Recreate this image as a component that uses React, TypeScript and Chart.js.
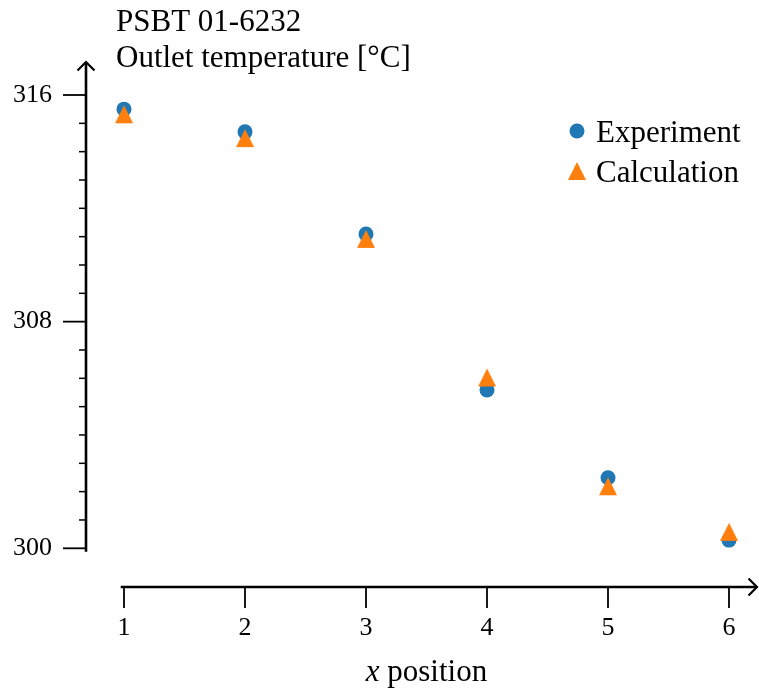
import React, { useEffect, useRef } from 'react';
import { Chart, registerables } from 'chart.js';

Chart.register(...registerables);

// ---- data ----
const X_POSITIONS = [1, 2, 3, 4, 5, 6];
const EXPERIMENT = [315.5, 314.7, 311.09, 305.59, 302.49, 300.29];
const CALCULATION = [315.32, 314.48, 310.92, 306.03, 302.19, 300.58];
const X_TICKS = [1, 2, 3, 4, 5, 6];
const Y_MAJOR_TICKS = [300, 308, 316];
const Y_MINOR_STEP = 1;
const SERIES_NAMES = ['Experiment', 'Calculation'];
const TITLE_LINES = ['PSBT 01-6232', 'Outlet temperature [°C]'];
const X_LABEL_VAR = 'x';
const X_LABEL_TEXT = ' position';

const COLORS = ['#1f77b4', '#ff7f0e'];
const FONT = '"Liberation Serif", "Times New Roman", serif';

function makeTriangle(color: string, size: number): HTMLCanvasElement {
  const c = document.createElement('canvas');
  const s = size + 2;
  c.width = s;
  c.height = s;
  const ctx = c.getContext('2d')!;
  ctx.fillStyle = color;
  ctx.beginPath();
  ctx.moveTo(s / 2, 1);
  ctx.lineTo(s - 1, s - 1);
  ctx.lineTo(1, s - 1);
  ctx.closePath();
  ctx.fill();
  return c;
}

function zeroPad(s: any) {
  s.paddingLeft = 0;
  s.paddingRight = 0;
  s.paddingTop = 0;
  s.paddingBottom = 0;
}

export default function App() {
  const ref = useRef<HTMLCanvasElement | null>(null);

  useEffect(() => {
    if (!ref.current) return;
    const tri = makeTriangle(COLORS[1], 18);

    const decor = {
      id: 'decor',
      afterDraw(chart: any) {
        const ctx = chart.ctx as CanvasRenderingContext2D;
        const xs = chart.scales.x;
        const ys = chart.scales.y;
        const area = chart.chartArea;
        const axX = area.left;
        const axY = area.bottom;
        ctx.save();
        ctx.strokeStyle = '#000';
        ctx.fillStyle = '#000';
        ctx.lineCap = 'butt';

        // y axis line
        ctx.lineWidth = 2.6;
        ctx.beginPath();
        ctx.moveTo(axX, ys.getPixelForValue(Y_MAJOR_TICKS[0]) + 3.4);
        ctx.lineTo(axX, area.top + 0.5);
        ctx.stroke();
        // y arrow
        ctx.lineWidth = 2.2;
        ctx.beginPath();
        ctx.moveTo(axX - 8.5, area.top + 8.5);
        ctx.quadraticCurveTo(axX - 3, area.top + 3, axX, area.top);
        ctx.quadraticCurveTo(axX + 3, area.top + 3, axX + 8.5, area.top + 8.5);
        ctx.stroke();

        // x axis line
        ctx.lineWidth = 2.6;
        ctx.beginPath();
        ctx.moveTo(xs.getPixelForValue(X_TICKS[0]) - 3.3, axY);
        ctx.lineTo(area.right - 0.5, axY);
        ctx.stroke();
        // x arrow
        ctx.lineWidth = 2.2;
        ctx.beginPath();
        ctx.moveTo(area.right - 8.5, axY - 8.5);
        ctx.quadraticCurveTo(area.right - 3, axY - 3, area.right, axY);
        ctx.quadraticCurveTo(area.right - 3, axY + 3, area.right - 8.5, axY + 8.5);
        ctx.stroke();

        // x ticks
        ctx.lineWidth = 1.8;
        X_TICKS.forEach((v) => {
          const px = xs.getPixelForValue(v);
          ctx.beginPath();
          ctx.moveTo(px, axY);
          ctx.lineTo(px, axY + 21);
          ctx.stroke();
        });

        // y ticks (major + minor)
        const yMin = Y_MAJOR_TICKS[0];
        const yMax = Y_MAJOR_TICKS[Y_MAJOR_TICKS.length - 1];
        for (let v = yMin; v <= yMax + 1e-9; v += Y_MINOR_STEP) {
          const py = ys.getPixelForValue(v);
          const major = Y_MAJOR_TICKS.includes(v);
          ctx.lineWidth = major ? 1.8 : 1.5;
          ctx.beginPath();
          ctx.moveTo(axX - (major ? 23 : 7), py);
          ctx.lineTo(axX, py);
          ctx.stroke();
        }

        // title lines (y-axis label)
        ctx.font = `31px ${FONT}`;
        ctx.textAlign = 'left';
        ctx.textBaseline = 'alphabetic';
        ctx.fillText(TITLE_LINES[0], 116, 30.5);
        ctx.fillText(TITLE_LINES[1], 116, 67);

        // x label
        const italic = `italic 31px ${FONT}`;
        const upright = `31px ${FONT}`;
        ctx.font = italic;
        const w1 = ctx.measureText(X_LABEL_VAR).width;
        ctx.font = upright;
        const w2 = ctx.measureText(X_LABEL_TEXT).width;
        const cx = (xs.getPixelForValue(X_TICKS[0]) + xs.getPixelForValue(X_TICKS[X_TICKS.length - 1])) / 2;
        const start = cx - (w1 + w2) / 2;
        ctx.font = italic;
        ctx.fillText(X_LABEL_VAR, start, 681);
        ctx.font = upright;
        ctx.fillText(X_LABEL_TEXT, start + w1, 681);

        // legend
        const lx = 577;
        const ly = [131, 171];
        ctx.fillStyle = COLORS[0];
        ctx.beginPath();
        ctx.arc(lx, ly[0], 7.5, 0, Math.PI * 2);
        ctx.fill();
        ctx.drawImage(tri, lx - tri.width / 2, ly[1] - tri.height / 2);
        ctx.fillStyle = '#000';
        ctx.font = `31px ${FONT}`;
        SERIES_NAMES.forEach((name, i) => {
          ctx.fillText(name, 596, ly[i] + 10.5);
        });
        ctx.restore();
      },
    };

    const chart = new Chart(ref.current, {
      type: 'scatter',
      data: {
        datasets: [
          {
            label: SERIES_NAMES[0],
            data: X_POSITIONS.map((x, i) => ({ x, y: EXPERIMENT[i] })),
            pointStyle: 'circle',
            pointRadius: 7.5,
            pointHoverRadius: 7.5,
            pointBorderWidth: 0,
            backgroundColor: COLORS[0],
            borderColor: COLORS[0],
            order: 1,
          },
          {
            label: SERIES_NAMES[1],
            data: X_POSITIONS.map((x, i) => ({ x, y: CALCULATION[i] })),
            pointStyle: tri,
            pointRadius: 9,
            pointHoverRadius: 9,
            pointBorderWidth: 0,
            backgroundColor: COLORS[1],
            borderColor: COLORS[1],
            order: 0,
          },
        ],
      },
      options: {
        responsive: false,
        animation: false,
        events: [],
        layout: { autoPadding: false, padding: { left: 0, right: 2, top: 62, bottom: 0 } },
        plugins: {
          legend: { display: false },
          tooltip: { enabled: false },
          title: { display: false },
        },
        scales: {
          x: {
            type: 'linear',
            min: 0.68595,
            max: 6.2314,
            grid: { display: false, drawTicks: false },
            border: { display: false },
            afterBuildTicks: (s: any) => {
              s.ticks = X_TICKS.map((v) => ({ value: v }));
            },
            afterFit: (s: any) => {
              s.height = 107;
              zeroPad(s);
            },
            ticks: {
              color: '#000',
              font: { family: FONT, size: 26, lineHeight: 1.2 },
              padding: 25.4,
              maxRotation: 0,
              autoSkip: false,
              callback: (v: any) => String(v),
            },
          },
          y: {
            type: 'linear',
            min: 298.634,
            max: 317.165,
            grid: { display: false, drawTicks: false },
            border: { display: false },
            afterBuildTicks: (s: any) => {
              s.ticks = Y_MAJOR_TICKS.map((v) => ({ value: v }));
            },
            afterFit: (s: any) => {
              s.width = 86;
              zeroPad(s);
            },
            ticks: {
              color: '#000',
              font: { family: FONT, size: 26, lineHeight: 1.2 },
              padding: 34,
              autoSkip: false,
              callback: (v: any) => String(v),
            },
          },
        },
      },
      plugins: [decor],
    });

    return () => chart.destroy();
  }, []);

  return (
    <div style={{ position: 'absolute', left: 0, top: 0, width: 759, height: 694, background: '#fff' }}>
      <canvas ref={ref} width={759} height={694} style={{ display: 'block' }} />
    </div>
  );
}
